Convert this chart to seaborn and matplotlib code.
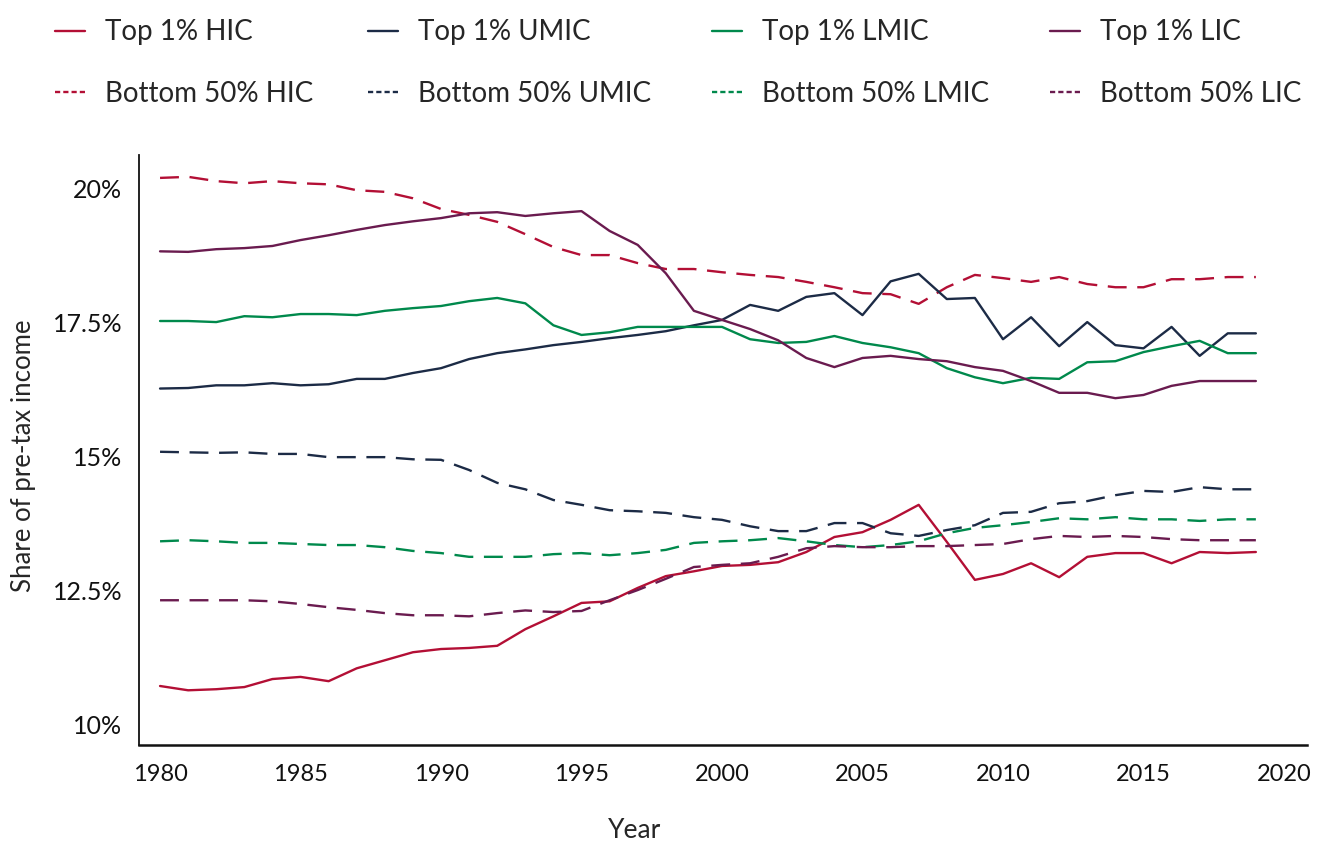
import matplotlib
matplotlib.use("Agg")
import matplotlib.pyplot as plt
from matplotlib.lines import Line2D
from matplotlib.ticker import FuncFormatter
import seaborn as sns
import pandas as pd

years = list(range(1980, 2020))

top1_hic = [10.71, 10.63, 10.65, 10.69, 10.84, 10.88, 10.80, 11.04, 11.19, 11.34,
            11.40, 11.42, 11.46, 11.77, 12.01, 12.26, 12.29, 12.54, 12.76, 12.85,
            12.95, 12.97, 13.02, 13.21, 13.49, 13.58, 13.81, 14.09, 13.40, 12.69,
            12.80, 13.00, 12.74, 13.12, 13.19, 13.19, 13.00, 13.21, 13.19, 13.21]
top1_umic = [16.26, 16.27, 16.32, 16.32, 16.36, 16.32, 16.34, 16.44, 16.44, 16.55,
             16.64, 16.81, 16.92, 16.99, 17.07, 17.13, 17.20, 17.26, 17.33, 17.44,
             17.54, 17.82, 17.71, 17.97, 18.04, 17.63, 18.26, 18.40, 17.93, 17.95,
             17.18, 17.59, 17.05, 17.50, 17.07, 17.01, 17.41, 16.87, 17.29, 17.29]
top1_lmic = [17.52, 17.52, 17.50, 17.61, 17.59, 17.65, 17.65, 17.63, 17.71, 17.76,
             17.80, 17.89, 17.95, 17.85, 17.44, 17.26, 17.31, 17.41, 17.41, 17.41,
             17.41, 17.18, 17.11, 17.13, 17.24, 17.11, 17.03, 16.92, 16.64, 16.47,
             16.36, 16.46, 16.44, 16.75, 16.77, 16.94, 17.05, 17.15, 16.92, 16.92]
top1_lic = [18.82, 18.81, 18.86, 18.88, 18.92, 19.03, 19.12, 19.22, 19.31, 19.38,
            19.44, 19.53, 19.55, 19.48, 19.53, 19.57, 19.20, 18.94, 18.41, 17.71,
            17.54, 17.37, 17.16, 16.83, 16.66, 16.83, 16.87, 16.81, 16.77, 16.66,
            16.59, 16.40, 16.18, 16.18, 16.08, 16.14, 16.31, 16.40, 16.40, 16.40]
bot50_hic = [20.19, 20.21, 20.13, 20.09, 20.13, 20.09, 20.07, 19.96, 19.93, 19.81,
             19.61, 19.50, 19.37, 19.14, 18.90, 18.75, 18.75, 18.60, 18.49, 18.49,
             18.43, 18.38, 18.34, 18.25, 18.15, 18.04, 18.02, 17.84, 18.15, 18.38,
             18.32, 18.25, 18.34, 18.21, 18.15, 18.15, 18.30, 18.30, 18.34, 18.34]
bot50_umic = [15.08, 15.07, 15.06, 15.07, 15.04, 15.04, 14.98, 14.98, 14.98, 14.94,
              14.93, 14.74, 14.50, 14.38, 14.18, 14.09, 13.99, 13.97, 13.94, 13.86,
              13.81, 13.69, 13.60, 13.60, 13.75, 13.75, 13.56, 13.51, 13.62, 13.71,
              13.94, 13.96, 14.12, 14.16, 14.27, 14.35, 14.33, 14.42, 14.38, 14.38]
bot50_lmic = [13.41, 13.43, 13.41, 13.38, 13.38, 13.36, 13.34, 13.34, 13.30, 13.23,
              13.19, 13.12, 13.12, 13.12, 13.17, 13.19, 13.15, 13.19, 13.25, 13.38,
              13.41, 13.43, 13.47, 13.41, 13.34, 13.30, 13.34, 13.41, 13.56, 13.66,
              13.71, 13.77, 13.84, 13.82, 13.86, 13.82, 13.82, 13.79, 13.82, 13.82]
bot50_lic = [12.31, 12.31, 12.31, 12.31, 12.29, 12.24, 12.18, 12.13, 12.07, 12.03,
             12.03, 12.01, 12.07, 12.12, 12.09, 12.11, 12.31, 12.50, 12.71, 12.93,
             12.97, 13.00, 13.12, 13.28, 13.32, 13.30, 13.30, 13.32, 13.32, 13.34,
             13.36, 13.45, 13.51, 13.49, 13.51, 13.49, 13.45, 13.43, 13.43, 13.43]

groups = ["HIC", "UMIC", "LMIC", "LIC"]
colors = {"HIC": "#b30f35", "UMIC": "#1c2b46", "LMIC": "#00894c", "LIC": "#6a1b4f"}

series = {
    ("Top 1%", "HIC"): top1_hic, ("Top 1%", "UMIC"): top1_umic,
    ("Top 1%", "LMIC"): top1_lmic, ("Top 1%", "LIC"): top1_lic,
    ("Bottom 50%", "HIC"): bot50_hic, ("Bottom 50%", "UMIC"): bot50_umic,
    ("Bottom 50%", "LMIC"): bot50_lmic, ("Bottom 50%", "LIC"): bot50_lic,
}
rows = []
for (pct, grp), vals in series.items():
    for y, v in zip(years, vals):
        rows.append({"Year": y, "share": v, "group": grp, "pct": pct})
df = pd.DataFrame(rows)

sns.set_style("white")
plt.rcParams["font.family"] = ["Lato", "DejaVu Sans"]

fig = plt.figure(figsize=(13.21, 8.43), dpi=100)
ax = fig.add_axes([0.1052, 0.1163, 0.8842, 0.7])

sns.lineplot(data=df, x="Year", y="share", hue="group", style="pct",
             palette=colors, dashes={"Top 1%": "", "Bottom 50%": (8, 4.5)},
             hue_order=groups, style_order=["Top 1%", "Bottom 50%"],
             linewidth=1.7, ax=ax, legend=False)

ax.set_xlim(1979.25, 2020.82)
ax.set_ylim(9.61, 20.62)
ax.set_xticks(range(1980, 2021, 5))
ax.set_yticks([10, 12.5, 15, 17.5, 20])
ax.yaxis.set_major_formatter(FuncFormatter(lambda v, p: f"{v:g}%"))
ax.tick_params(axis="both", length=0, colors="#111111")
ax.tick_params(axis="x", pad=14, labelsize=17)
ax.tick_params(axis="y", pad=12, labelsize=18)
ax.set_xlabel("Year", fontsize=19)
ax.set_ylabel("Share of pre-tax income", fontsize=18.5)
ax.xaxis.set_label_coords(0.4247, -0.124)
ax.yaxis.set_label_coords(-0.088, 0.49)
for s in ["top", "right"]:
    ax.spines[s].set_visible(False)
ax.spines["left"].set_color("#111111")
ax.spines["left"].set_linewidth(1.3)
ax.spines["bottom"].set_color("#111111")
ax.spines["bottom"].set_linewidth(1.8)

# one legend column per income group, placed like the original
col_x = [0.0416, 0.2786, 0.539, 0.7948]
for grp, x0 in zip(groups, col_x):
    handles = [Line2D([], [], color=colors[grp], lw=1.7, linestyle="-"),
               Line2D([], [], color=colors[grp], lw=1.7, linestyle=(0, (2.2, 1.3)))]
    labels = [f"Top 1% {grp}", f"Bottom 50% {grp}"]
    fig.legend(handles, labels, loc="upper left", bbox_to_anchor=(x0, 0.977),
               frameon=False, fontsize=20, handlelength=1.08,
               handletextpad=0.72, labelspacing=1.27,
               borderpad=0, borderaxespad=0)

fig.savefig("out.png", dpi=100)
